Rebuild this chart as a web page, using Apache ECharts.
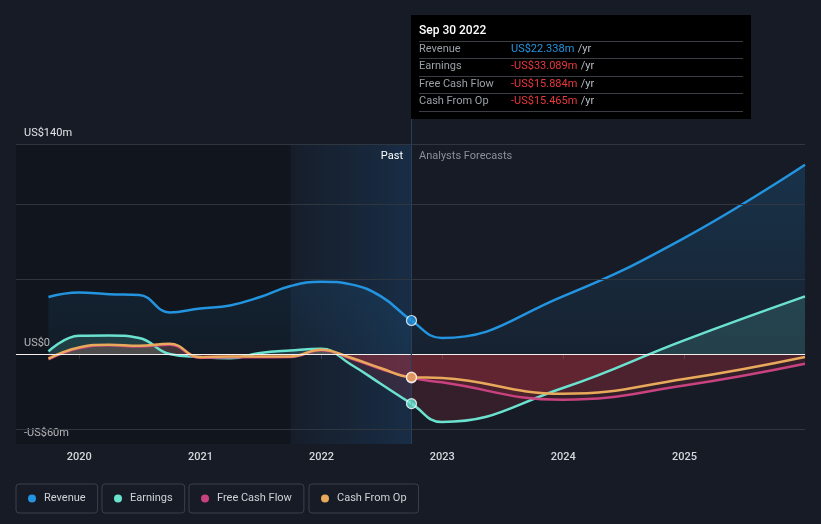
<!DOCTYPE html>
<html><head><meta charset="utf-8">
<script src="https://cdn.jsdelivr.net/npm/echarts@6/dist/echarts.min.js"></script>
<style>html,body{margin:0;padding:0;background:#161b26;}#c{width:821px;height:524px;}</style>
</head><body><div id="c"></div>
<script>
// ---- data ----
const dates = ['2019-09-30','2019-12-31','2020-03-31','2020-06-30','2020-09-30','2020-12-31','2021-03-31','2021-06-30','2021-09-30','2021-12-31','2022-03-31','2022-06-30','2022-09-30','2022-12-31','2023-12-31','2024-12-31','2025-12-31'];
const revenue  = [38, 41, 39.8, 39.3, 27.7, 30.4, 32.4, 38, 45.3, 48.2, 46.4, 38.4, 22.338, 10.7, 38.4, 77.3, 126.2];
const earnings = [1.7, 12.2, 12.4, 10.7, 0, -2, -2.8, 0.7, 2.4, 3.5, -7, -20, -33.089, -45.3, -22.7, 9.1, 38.4];
const fcf      = [-3.5, 3.8, 5.8, 5.0, 6.2, -2.5, -2.2, -2.2, -2.0, 2.5, -3, -10, -15.884, -18.9, -30.5, -21, -6.5];
const cfo      = [-3.1, 4.3, 6.2, 5.5, 6.9, -2.1, -1.6, -1.6, -1.6, 2.9, -2.5, -9.5, -15.465, -16, -26.5, -16.7, -2];
const seriesNames = ['Revenue', 'Earnings', 'Free Cash Flow', 'Cash From Op'];
const yTickLabels = {'140': 'US$140m', '0': 'US$0', '-60': '-US$60m'};
const gridValues = [-50, 50, 100, 140];
const pastStart = '2021-09-30';
const highlightDate = '2022-09-30';
const tipTitle = 'Sep 30 2022';
const tipValues = ['US$22.338m', '-US$33.089m', '-US$15.884m', '-US$15.465m'];

// ---- styles ----
const colors = ['#2394df', '#6be2cf', '#c8427f', '#e8a95b'];
const tipColors = ['#2394df', '#e8383d', '#e8383d', '#e8383d'];
const FONT = 'Roboto, "Noto Sans", sans-serif';
const pairs = vals => dates.map((d, i) => [d, vals[i]]);
const hi = dates.indexOf(highlightDate);
const allVals = [revenue, earnings, fcf, cfo];

const chart = echarts.init(document.getElementById('c'), null, {renderer: 'canvas'});

function lineSeries(i, areaStyle) {
  return {
    name: seriesNames[i], type: 'line', data: pairs(allVals[i]),
    smooth: 0.45, symbol: 'none', z: 3,
    lineStyle: {width: 2.5, color: colors[i]},
    itemStyle: {color: colors[i]},
    areaStyle: areaStyle
  };
}

const series = [
  lineSeries(0, {color: new echarts.graphic.LinearGradient(0, 0, 0, 1, [
    {offset: 0, color: 'rgba(35,148,223,0.28)'}, {offset: 1, color: 'rgba(35,148,223,0.08)'}])}),
  lineSeries(1, {opacity: 1}),
  lineSeries(2, {opacity: 1}),
  lineSeries(3, {opacity: 1}),
  { // background markers
    type: 'line', data: [], z: 1, silent: true,
    markArea: {silent: true, itemStyle: {color: 'rgba(0,0,0,0.22)'},
      data: [[{xAxis: '2019-01-01'}, {xAxis: pastStart}]]},
    markLine: {silent: true, symbol: 'none', label: {show: false},
      lineStyle: {color: '#30363f', width: 1, type: 'solid'},
      data: gridValues.map(v => ({yAxis: v}))}
  },
  { // overlay band + separators
    type: 'line', data: [], z: 6, silent: true,
    markArea: {silent: true, itemStyle: {color: new echarts.graphic.LinearGradient(0, 0, 1, 0, [
      {offset: 0, color: 'rgba(30,90,150,0.04)'}, {offset: 1, color: 'rgba(30,100,165,0.25)'}])},
      data: [[{xAxis: pastStart}, {xAxis: highlightDate}]]},
    markLine: {silent: true, symbol: 'none', label: {show: false},
      data: [
        {yAxis: 0, lineStyle: {color: '#f4eeee', width: 1, type: 'solid'}},
        {xAxis: highlightDate, lineStyle: {color: '#2a3f55', width: 1, type: 'solid'}}
      ]}
  },
  {
    type: 'scatter', z: 10, silent: true, symbolSize: 10,
    data: allVals.map((v, i) => ({value: [highlightDate, v[hi]],
      itemStyle: {color: colors[i], borderColor: '#ffffff', borderWidth: 1.2}}))
  }
];

const legendLefts = [16, 102, 189, 309];

const option = {
  backgroundColor: '#161b26',
  animation: false,
  textStyle: {fontFamily: FONT},
  grid: {left: 16, right: 16, top: 144, bottom: 80},
  xAxis: {
    type: 'time', min: '2019-06-24', max: '2025-12-31',
    minInterval: 365 * 24 * 3600 * 1000,
    axisLine: {lineStyle: {color: '#3a404a'}},
    axisTick: {show: true, length: 5, lineStyle: {color: '#3a404a'}},
    axisLabel: {color: '#d4d7db', fontSize: 11, fontWeight: 500, fontFamily: FONT, margin: 8,
      formatter: '{yyyy}'},
    splitLine: {show: false}
  },
  yAxis: {
    type: 'value', min: -60, max: 140, interval: 20,
    axisLine: {show: false}, axisTick: {show: false}, splitLine: {show: false},
    axisLabel: {inside: true, margin: 8, align: 'left', verticalAlign: 'bottom',
      padding: [0, 0, 5, 0], color: '#e2e4e7', fontSize: 11, fontFamily: FONT,
      formatter: v => yTickLabels[String(v)] || ''}
  },
  visualMap: [1, 2, 3].map(i => ({
    type: 'piecewise', show: false, seriesIndex: i, dimension: 1,
    pieces: [
      {gte: -60, lt: 0, color: 'rgba(205,50,65,0.16)'},
      {gte: 0, lte: 140, color: i === 1 ? 'rgba(107,226,207,0.16)' : (i === 3 ? 'rgba(232,169,91,0.14)' : 'rgba(200,66,127,0.12)')}
    ],
    outOfRange: {color: 'rgba(0,0,0,0)'}
  })),
  legend: seriesNames.map((n, i) => ({
    data: [{name: n, itemStyle: {color: colors[i]}}],
    left: legendLefts[i], top: 484,
    icon: 'circle', itemWidth: 8, itemHeight: 8,
    padding: [9, 12, 9, 12], borderColor: '#3a404b', borderWidth: 1, borderRadius: 3,
    selectedMode: false,
    textStyle: {color: '#cfd2d6', fontSize: 11, fontFamily: FONT, padding: [0, 0, 0, 3]}
  })),
  series: series
};
chart.setOption(option);

// ---- annotation (tooltip-like box) positioned from axis scale ----
const px = chart.convertToPixel({xAxisIndex: 0, yAxisIndex: 0}, [highlightDate, 140]);
const xp = Math.round(px[0]), yTop = px[1];
const boxTop = 15, boxW = 340, boxH = 104;
const rowY = [49.5, 66.5, 84, 101.5];
const sepY = [41.5, 58.5, 76.5, 93.5, 111.5];
const g = [
  {type: 'rect', shape: {x: xp, y: boxTop, width: boxW, height: boxH}, style: {fill: '#000000'}, z: 50},
  {type: 'line', shape: {x1: xp + 0.5, y1: boxTop + boxH, x2: xp + 0.5, y2: yTop}, style: {stroke: '#2a3f55', lineWidth: 1}, z: 50},
  {type: 'text', x: xp + 8, y: 31, z: 51, style: {text: tipTitle, fill: '#ffffff', font: '500 12px ' + FONT, verticalAlign: 'middle'}},
  {type: 'text', x: xp - 8, y: 156, z: 51, style: {text: 'Past', fill: '#ffffff', font: '11px ' + FONT, align: 'right', verticalAlign: 'middle'}},
  {type: 'text', x: xp + 8, y: 156, z: 51, style: {text: 'Analysts Forecasts', fill: '#8b9098', font: '11px ' + FONT, align: 'left', verticalAlign: 'middle'}}
];
sepY.forEach(y => g.push({type: 'line', z: 51, shape: {x1: xp + 8, y1: y, x2: xp + 332, y2: y}, style: {stroke: '#3a3e44', lineWidth: 1}}));
seriesNames.forEach((n, i) => {
  g.push({type: 'text', x: xp + 8, y: rowY[i], z: 51, style: {text: n, fill: '#9aa0a6', font: '11px ' + FONT, verticalAlign: 'middle'}});
  g.push({type: 'text', x: xp + 100, y: rowY[i], z: 51, style: {
    text: '{v|' + tipValues[i] + '} {u|/yr}', verticalAlign: 'middle',
    rich: {v: {fill: tipColors[i], font: '11px ' + FONT}, u: {fill: '#b8bcc2', font: '11px ' + FONT}}}});
});
chart.setOption({graphic: g});
</script></body></html>
